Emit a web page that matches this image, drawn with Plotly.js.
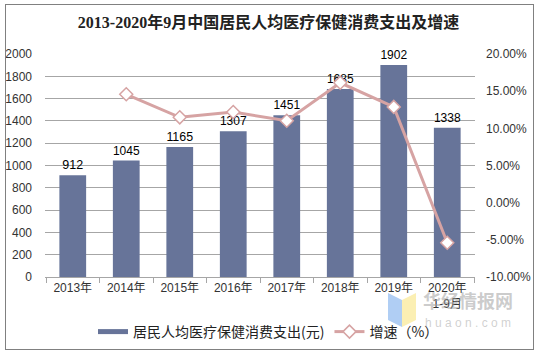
<!DOCTYPE html>
<html>
<head>
<meta charset="utf-8">
<script src="https://cdn.plot.ly/plotly-3.0.1.min.js"></script>
<style>
html,body{margin:0;padding:0;background:#fff;}
#wrap{position:relative;width:537px;height:354px;}
#chart{position:absolute;left:0;top:0;width:537px;height:354px;}
#frame{position:absolute;left:5px;top:4px;width:527px;height:344px;border:1px solid #808080;pointer-events:none;}
</style>
</head>
<body>
<div id="wrap"><div id="chart"></div><div id="frame"></div></div>
<script>
const categories = ['2013年','2014年','2015年','2016年','2017年','2018年','2019年','2020年<br>1-9月'];
const spending = [912, 1045, 1165, 1307, 1451, 1685, 1902, 1338];
const growth = [null, 14.58, 11.48, 12.19, 11.02, 16.13, 12.88, -5.40];
const leftTicks = [0,200,400,600,800,1000,1200,1400,1600,1800,2000];
const rightTicks = [-10,-5,0,5,10,15,20];
const rightTickLabels = ['-10.00%','-5.00%','0.00%','5.00%','10.00%','15.00%','20.00%'];

const barColor = 'rgb(103,116,153)';
const lineColor = 'rgb(214,163,163)';
const baseFont = '"Liberation Sans", Arial, "Noto Sans CJK SC", sans-serif';

// plot area in pixels: left 45, right 475, top 54, bottom 277
const L = 45, R = 475, T = 54, B = 277;
const px = x => (x - L) / (R - L);
const py = y => (B - y) / (B - T);

const traces = [
  {
    type: 'bar', x: categories, y: spending, width: 0.5,
    marker: {color: barColor},
    text: spending.map(String), textposition: 'outside', cliponaxis: false,
    textfont: {family: baseFont, size: 12.5, color: '#000'},
    showlegend: false, hoverinfo: 'none'
  },
  {
    type: 'scatter', mode: 'lines', x: [categories[0]], y: [null],
    name: '居民人均医疗保健消费支出(元)',
    line: {color: barColor, width: 5}, hoverinfo: 'none'
  },
  {
    type: 'scatter', mode: 'lines+markers', x: categories, y: growth, yaxis: 'y2',
    name: '增速（%）',
    line: {color: lineColor, width: 3},
    marker: {symbol: 'diamond', size: 10, color: '#fff', line: {color: lineColor, width: 1.5}},
    hoverinfo: 'none'
  }
];

const layout = {
  width: 537, height: 354,
  margin: {l: L, r: 537 - R, t: T, b: 354 - B, pad: 0},
  paper_bgcolor: '#fff', plot_bgcolor: '#fff',
  font: {family: baseFont, size: 12, color: '#404040'},
  title: {
    text: '<b>2013-2020年9月中国居民人均医疗保健消费支出及增速</b>',
    font: {family: '"Liberation Serif", "Noto Sans CJK SC", serif', size: 16, color: '#222'},
    x: 0.5, xanchor: 'center', xref: 'container',
    y: 1 - 22 / 354, yanchor: 'middle', yref: 'container'
  },
  bargap: 0.5,
  xaxis: {
    type: 'category', showline: true, linecolor: '#a6a6a6', linewidth: 1,
    ticks: 'outside', tickson: 'boundaries', ticklen: 5, tickcolor: '#a6a6a6',
    showgrid: false, tickfont: {size: 12, color: '#333'}, fixedrange: true
  },
  yaxis: {
    range: [0, 2000], tickvals: leftTicks, showgrid: true, gridcolor: '#a6a6a6', gridwidth: 1,
    zeroline: false, showline: false, ticks: '', ticklabelstandoff: 12,
    tickfont: {size: 12, color: '#333'}, fixedrange: true
  },
  yaxis2: {
    overlaying: 'y', side: 'right', range: [-10, 20],
    tickvals: rightTicks, ticktext: rightTickLabels,
    showgrid: false, zeroline: false, showline: false, ticks: '', ticklabelstandoff: 10,
    tickfont: {size: 12, color: '#333'}, fixedrange: true
  },
  showlegend: true,
  legend: {
    orientation: 'h', x: 0.5, xanchor: 'center', xref: 'container',
    y: 1 - 332 / 354, yanchor: 'middle', yref: 'container',
    font: {size: 14, color: '#222', family: '"Noto Sans CJK SC", "Liberation Sans", sans-serif'},
    itemwidth: 30, tracegroupgap: 0, bgcolor: 'rgba(0,0,0,0)'
  },
  shapes: [
    {type: 'path', xref: 'paper', yref: 'paper', layer: 'below',
     path: `M ${px(388)} ${py(293)} L ${px(402)} ${py(300)} L ${px(402)} ${py(327)} L ${px(388)} ${py(320)} Z`,
     fillcolor: 'rgba(150,190,240,0.75)', line: {width: 0}},
    {type: 'path', xref: 'paper', yref: 'paper', layer: 'below',
     path: `M ${px(402)} ${py(300)} L ${px(416)} ${py(293)} L ${px(416)} ${py(320)} L ${px(402)} ${py(327)} Z`,
     fillcolor: 'rgba(250,235,160,0.8)', line: {width: 0}}
  ],
  annotations: [
    {text: '<b>华经情报网</b>', xref: 'paper', yref: 'paper', x: px(468), y: py(300),
     xanchor: 'center', yanchor: 'middle', showarrow: false,
     font: {family: '"Noto Sans CJK SC", sans-serif', size: 18, color: 'rgba(160,160,160,0.55)'}},
    {text: 'h u a o n . c o m', xref: 'paper', yref: 'paper', x: px(468), y: py(323),
     xanchor: 'center', yanchor: 'middle', showarrow: false,
     font: {family: baseFont, size: 12, color: 'rgba(170,170,170,0.55)'}}
  ]
};

Plotly.newPlot('chart', traces, layout, {displayModeBar: false, staticPlot: true});
</script>
</body>
</html>
